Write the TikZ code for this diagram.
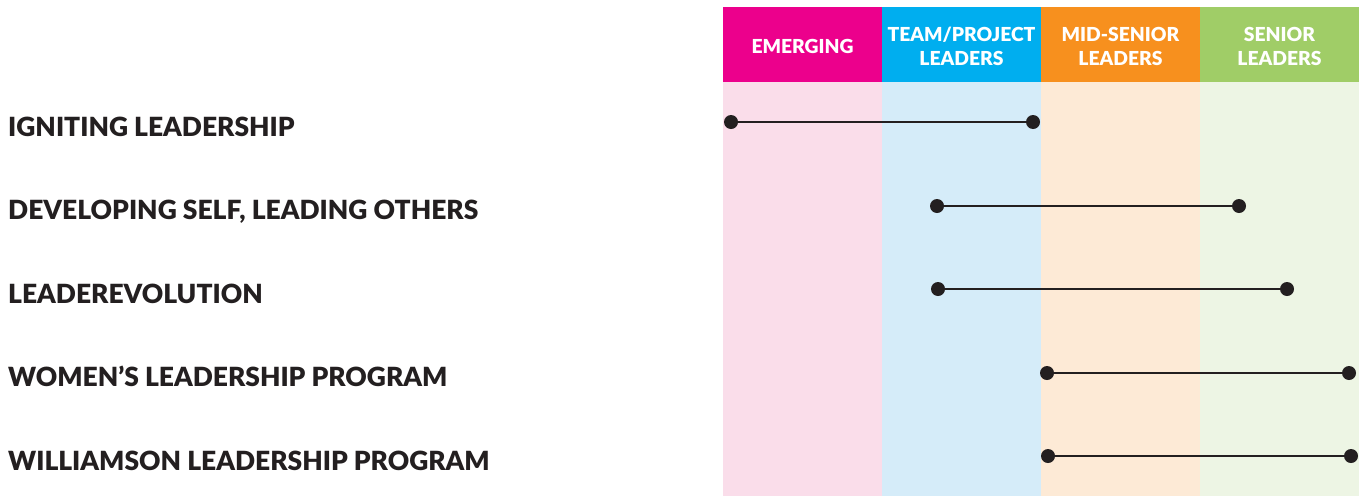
\documentclass[tikz,border=0pt]{standalone}
\usepackage{fontspec}
\setmainfont{Lato}
\IfFontExistsTF{Lato Black}{\newfontfamily\heavy{Lato Black}}{\newfontfamily\heavy{Lato}[UprightFont=*-Bold,FakeBold=0.6]}
\definecolor{cMag}{HTML}{EC008C}
\definecolor{cCyan}{HTML}{00AEEF}
\definecolor{cOrange}{HTML}{F7901E}
\definecolor{cGreen}{HTML}{A0CD67}
\definecolor{lMag}{HTML}{FADDEA}
\definecolor{lCyan}{HTML}{D5ECF9}
\definecolor{lOrange}{HTML}{FDEAD6}
\definecolor{lGreen}{HTML}{EDF5E4}
\definecolor{ink}{HTML}{231F20}
\tikzset{
  head/.style={font=\heavy\fontsize{19.3}{24}\selectfont, text=white, align=center},
  prog/.style={font=\heavy\fontsize{26.4}{30}\selectfont, text=ink, anchor=base west, inner sep=0pt},
  dot/.style={circle, fill=ink, minimum size=14pt, inner sep=0pt},
  span/.style={draw=ink, line width=2.2pt},
}
\begin{document}
\begin{tikzpicture}[x=1pt,y=-1pt]
\useasboundingbox (0,0) rectangle (1365,496);
% light columns
\fill[lMag] (723,82) rectangle (882,496);
\fill[lCyan] (882,82) rectangle (1041,496);
\fill[lOrange] (1041,82) rectangle (1200,496);
\fill[lGreen] (1200,82) rectangle (1359,496);
% headers
\fill[cMag] (723,7) rectangle (882,82);
\fill[cCyan] (882,7) rectangle (1041,82);
\fill[cOrange] (1041,7) rectangle (1200,82);
\fill[cGreen] (1200,7) rectangle (1359,82);
\node[head] (h1) at (802.5,46) {EMERGING};
\node[head] (h2) at (961.5,46) {TEAM/PROJECT\\LEADERS};
\node[head] (h3) at (1120.5,46) {MID-SENIOR\\LEADERS};
\node[head] (h4) at (1279.5,46) {SENIOR\\LEADERS};
% programs
\node[prog] (p1) at (8,136) {IGNITING LEADERSHIP};
\node[prog] (p2) at (8,219.5) {DEVELOPING SELF, LEADING OTHERS};
\node[prog] (p3) at (8,303) {LEADEREVOLUTION};
\node[prog] (p4) at (8,386.5) {WOMEN’S LEADERSHIP PROGRAM};
\node[prog] (p5) at (8,470) {WILLIAMSON LEADERSHIP PROGRAM};
% spans
\node[dot] (a1) at (731,122) {};
\node[dot] (b1) at (1033,122) {};
\node[dot] (a2) at (937,206) {};
\node[dot] (b2) at (1239,206) {};
\node[dot] (a3) at (938,289) {};
\node[dot] (b3) at (1287,289) {};
\node[dot] (a4) at (1047,373) {};
\node[dot] (b4) at (1349,373) {};
\node[dot] (a5) at (1048,456) {};
\node[dot] (b5) at (1351,456) {};
\draw[span] (a1) -- (b1);
\draw[span] (a2) -- (b2);
\draw[span] (a3) -- (b3);
\draw[span] (a4) -- (b4);
\draw[span] (a5) -- (b5);
\end{tikzpicture}
\end{document}
